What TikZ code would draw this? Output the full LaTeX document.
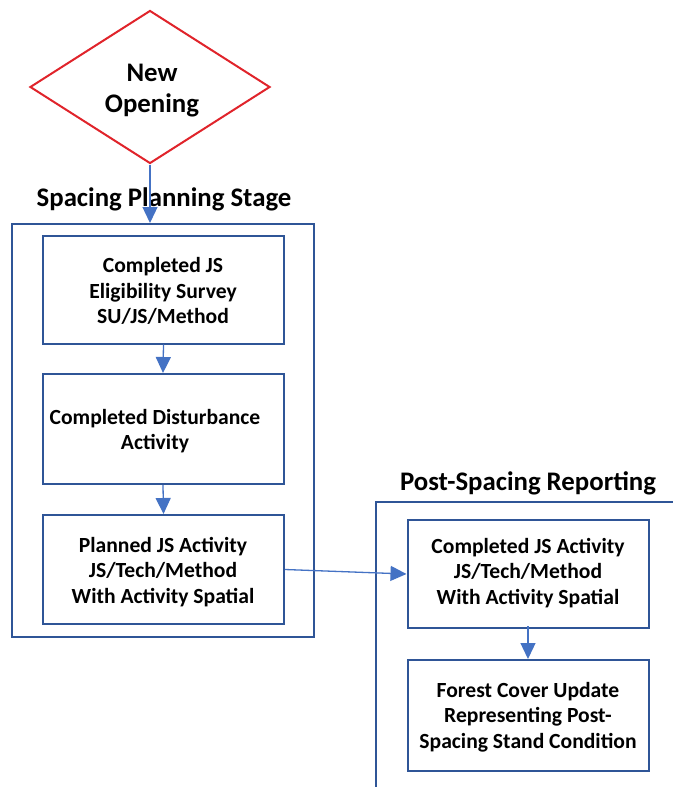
\documentclass[tikz,border=0pt]{standalone}
\usepackage{fontspec}
\setmainfont{Carlito}
\usetikzlibrary{shapes.geometric,arrows.meta}
\definecolor{boxblue}{HTML}{2F5597}
\definecolor{arrblue}{HTML}{4472C4}
\definecolor{dred}{HTML}{E0242B}
\begin{document}
\begin{tikzpicture}[x=1pt,y=-1pt,
  stepbox/.style={draw=boxblue,line width=2pt,minimum width=241pt,minimum height=108pt,inner sep=0pt},
  btext/.style={align=center,font=\bfseries\fontsize{21.6}{25.5}\selectfont},
  ttext/.style={font=\bfseries\fontsize{26.8}{31}\selectfont},
  flow/.style={draw=arrblue,line width=1.3pt,-{Triangle[length=16pt,width=15pt]}},
  frame/.style={draw=boxblue,line width=2pt}]
\useasboundingbox (0,0) rectangle (673,787);
% diamond
\node[draw=dred,line width=2pt,shape=diamond,minimum width=240pt,minimum height=153pt,inner sep=0pt] (start) at (150,87) {};
\node[ttext,align=center] (starttext) at (152,91) {New\\Opening};
% stage 1
\node[ttext,anchor=base] (t1) at (164,206) {Spacing Planning Stage};
\node[frame,minimum width=302pt,minimum height=413pt,inner sep=0pt] (outer1) at (163,430.5) {};
\node[stepbox] (A) at (163.5,289.5) {};
\node[btext] (Atext) at (163,291) {Completed JS\\Eligibility Survey\\SU/JS/Method};
\node[stepbox,minimum height=110pt] (B) at (163,429) {};
\node[btext] (Btext) at (155,431) {Completed Disturbance\\Activity};
\node[stepbox,minimum height=109pt] (C) at (163.5,569.5) {};
\node[btext] (Ctext) at (163,572) {Planned JS Activity\\JS/Tech/Method\\With Activity Spatial};
% stage 2
\node[ttext,anchor=base] (t2) at (528,490) {Post-Spacing Reporting};
\coordinate (f1) at (376,787);
\coordinate (f2) at (376,502);
\coordinate (f3) at (673,502);
\draw[frame] (f1) -- (f2) -- (f3);
\node[stepbox] (D) at (528,574) {};
\node[btext] (Dtext) at (528,573) {Completed JS Activity\\JS/Tech/Method\\With Activity Spatial};
\node[stepbox,minimum height=111pt] (E) at (528,715.5) {};
\node[btext] (Etext) at (528,717) {Forest Cover Update\\Representing Post-\\Spacing Stand Condition};
% arrows
\draw[flow] (start.south) -- (start.south |- outer1.north);
\draw[flow] (A.south) -- (B.north);
\draw[flow] (B.south) -- (C.north);
\draw[flow] (C.east) -- (D.west);
\draw[flow] ([yshift=3pt]D.south) -- (E.north);
\end{tikzpicture}
\end{document}
